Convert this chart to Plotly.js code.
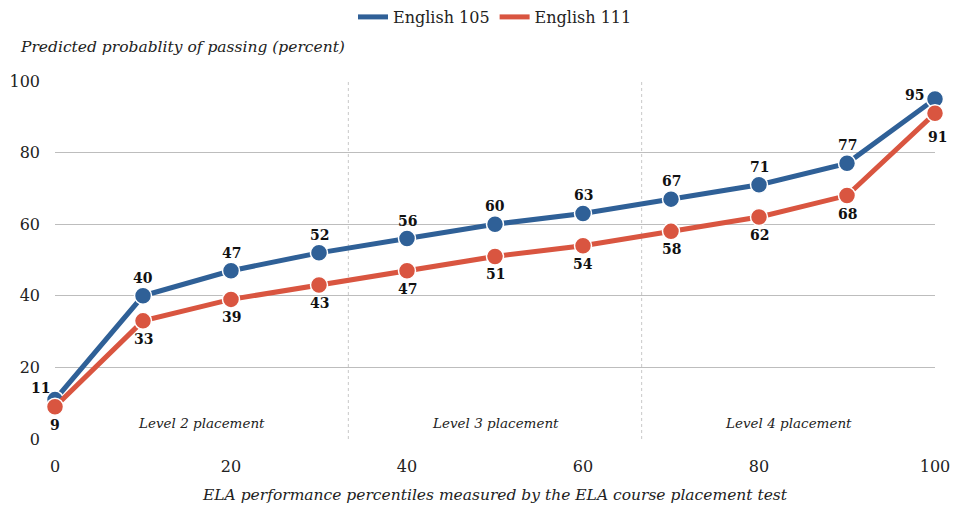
<!DOCTYPE html>
<html>
<head>
<meta charset="utf-8">
<script src="https://cdn.plot.ly/plotly-3.0.1.min.js"></script>
<style>html,body{margin:0;padding:0;background:#fff;}#chart{width:955px;height:508px;}</style>
</head>
<body>
<div id="chart"></div>
<script>
const percentiles = [0, 10, 20, 30, 40, 50, 60, 70, 80, 90, 100];
const english105 = [11, 40, 47, 52, 56, 60, 63, 67, 71, 77, 95];
const english111 = [9, 33, 39, 43, 47, 51, 54, 58, 62, 68, 91];
const seriesNames = ["English 105", "English 111"];
const levelLabels = ["Level 2 placement", "Level 3 placement", "Level 4 placement"];
const levelCenters = [16.667, 50, 83.333];
const levelBounds = [33.333, 66.667];
const xTicks = [0, 20, 40, 60, 80, 100];
const yTicks = [0, 20, 40, 60, 80, 100];

const FONT = "DejaVu Serif, Georgia, serif";
const BLUE = "#2f6097";
const RED = "#d95540";

function seriesTrace(y, name, color) {
  return {
    x: percentiles, y: y, name: name, type: "scatter", mode: "lines+markers",
    line: {color: color, width: 5},
    marker: {color: color, size: 17, line: {color: "#fff", width: 1.5}},
    showlegend: false, cliponaxis: false, hoverinfo: "skip"
  };
}
function legendTrace(name, color) {
  return {x: [null], y: [null], name: name, type: "scatter", mode: "lines",
    line: {color: color, width: 5}, showlegend: true};
}

const traces = [
  seriesTrace(english105, seriesNames[0], BLUE),
  seriesTrace(english111, seriesNames[1], RED),
  legendTrace(seriesNames[0], BLUE),
  legendTrace(seriesNames[1], RED)
];

const shapes = levelBounds.map(b => ({
  type: "line", xref: "x", yref: "paper", x0: b, x1: b, y0: 0, y1: 1,
  line: {color: "#c8c8c8", width: 1, dash: "dot"}, layer: "below"
}));

const labelFont = {family: FONT, size: 14, color: "#111", weight: "bold"};
const annotations = [];
const last = percentiles.length - 1;
percentiles.forEach((x, i) => {
  let xs = 0, ys = 18;
  if (i === 0) { xs = -15; ys = 12; }
  if (i === last) { xs = -21; ys = 4; }
  annotations.push({x: x, y: english105[i], xref: "x", yref: "y", text: String(english105[i]),
    showarrow: false, xshift: xs, yshift: ys, font: labelFont});
});
percentiles.forEach((x, i) => {
  let xs = 0, ys = -18;
  if (i === last) { xs = 2; ys = -24; }
  annotations.push({x: x, y: english111[i], xref: "x", yref: "y", text: String(english111[i]),
    showarrow: false, xshift: xs, yshift: ys, font: labelFont});
});
levelLabels.forEach((t, i) => annotations.push({
  x: levelCenters[i], y: 0, xref: "x", yref: "y", yanchor: "bottom", yshift: 6,
  text: "<i>" + t + "</i>", showarrow: false,
  font: {family: FONT, size: 13.5, color: "#222"}
}));
annotations.push({
  x: -37/880, xref: "paper", y: 1, yref: "paper", xanchor: "left", yanchor: "bottom", yshift: 23,
  text: "<i>Predicted probablity of passing (percent)</i>", showarrow: false,
  font: {family: FONT, size: 15.5, color: "#222"}
});

const layout = {
  width: 955, height: 508,
  margin: {l: 55, r: 20, t: 81, b: 69},
  paper_bgcolor: "#fff", plot_bgcolor: "#fff",
  font: {family: FONT, color: "#222"},
  showlegend: true,
  legend: {orientation: "h", x: 0.5, xanchor: "center", y: 1, yref: "container", yanchor: "top",
    font: {family: FONT, size: 16, color: "#222"}, traceorder: "normal"},
  xaxis: {
    range: [0, 100], tickvals: xTicks, ticktext: xTicks.map(String),
    showgrid: false, zeroline: false, showline: false, ticks: "",
    tickfont: {family: FONT, size: 16, color: "#222"}, ticklabelstandoff: 16,
    title: {text: "<i>ELA performance percentiles measured by the ELA course placement test</i>",
      font: {family: FONT, size: 15.5, color: "#222"}, standoff: 14}
  },
  yaxis: {
    range: [0, 100], tickvals: yTicks, ticktext: yTicks.map(String),
    showgrid: true, gridcolor: "#bdbdbd", gridwidth: 1, zeroline: false, showline: false, ticks: "",
    tickfont: {family: FONT, size: 16, color: "#222"}, ticklabelstandoff: 14
  },
  shapes: shapes,
  annotations: annotations
};

Plotly.newPlot("chart", traces, layout, {displayModeBar: false, staticPlot: true});
</script>
</body>
</html>
